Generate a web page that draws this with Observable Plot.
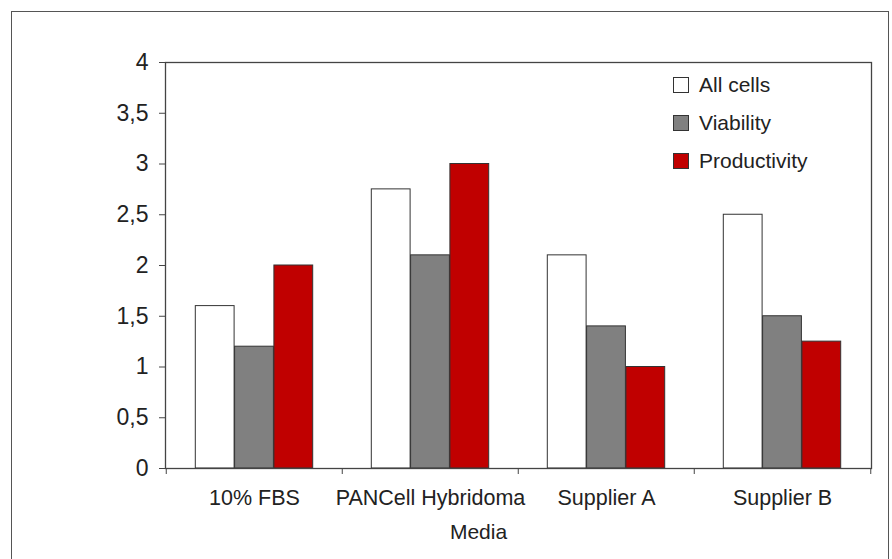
<!DOCTYPE html>
<html>
<head>
<meta charset="utf-8">
<script src="https://cdn.jsdelivr.net/npm/d3@7"></script>
<script src="https://cdn.jsdelivr.net/npm/@observablehq/plot@0.6"></script>
<style>
  html, body { margin: 0; padding: 0; background: #fff; overflow: hidden; }
  #wrap { position: relative; width: 892px; height: 559px; overflow: hidden; font-family: "Liberation Sans", Arial, sans-serif; }
  #border { position: absolute; left: 11px; top: 11px; width: 878px; height: 600px; border: 1.5px solid #555; box-sizing: border-box; }
  #chart { position: absolute; left: 0; top: 0; }
  #legend { position: absolute; left: 673px; top: 66px; font-size: 21px; color: #222; }
  .row { display: flex; align-items: center; height: 38px; }
  .sw { width: 14px; height: 14px; border: 1px solid #333; margin-right: 10px; box-sizing: content-box; }
</style>
</head>
<body>
<div id="wrap">
  <div id="border"></div>
  <div id="chart"></div>
  <div id="legend"></div>
</div>
<script>
const media = ["10% FBS", "PANCell Hybridoma", "Supplier A", "Supplier B"];
const series = ["All cells", "Viability", "Productivity"];
const allCells = [1.6, 2.75, 2.1, 2.5];
const viability = [1.2, 2.1, 1.4, 1.5];
const productivity = [2.0, 3.0, 1.0, 1.25];
const colors = ["#ffffff", "#808080", "#c00000"];
const yTicks = [0, 0.5, 1, 1.5, 2, 2.5, 3, 3.5, 4];
const xLabel = "Media";

const valuesBySeries = [allCells, viability, productivity];

const W = 892, H = 559;
const mL = 165, mR = 21, mT = 62, mB = 91;
const band = (W - mL - mR) / media.length;
const barW = 39.3;
const pad = (band - series.length * barW) / 2;

const data = [];
series.forEach((s, i) => media.forEach((m, j) => data.push({media: m, series: s, value: valuesBySeries[i][j]})));

const barMarks = series.map((s, i) => Plot.barY(data.filter(d => d.series === s), {
  x: "media", y: "value",
  fill: colors[i], stroke: "#333", strokeWidth: 1,
  insetLeft: pad + i * barW, insetRight: band - pad - (i + 1) * barW
}));

const fmt = d => String(d).replace(".", ",");

const plot = Plot.plot({
  width: W, height: H,
  marginLeft: mL, marginRight: mR, marginTop: mT, marginBottom: mB,
  style: {fontFamily: "'Liberation Sans', Arial, sans-serif", color: "#222", background: "transparent"},
  x: {domain: media, padding: 0},
  y: {domain: [0, 4]},
  marks: [
    ...barMarks,
    Plot.frame({stroke: "#444", strokeWidth: 1.3}),
    Plot.axisY({ticks: yTicks, tickFormat: fmt, tickSize: 6, tickPadding: 11, fontSize: 23, label: null, stroke: "#444"}),
    Plot.axisX({tickSize: 0, tickPadding: 21, fontSize: 21.5, label: null}),
    Plot.axisX({ticks: media, tickSize: 6, tickFormat: () => "", dx: -band / 2, label: null, stroke: "#444"}),
    Plot.axisX({ticks: [media[media.length - 1]], tickSize: 6, tickFormat: () => "", dx: band / 2, label: null, stroke: "#444"}),
    Plot.text([xLabel], {frameAnchor: "bottom", lineAnchor: "middle", dx: -40, dy: 64, fontSize: 21, text: d => d, fill: "#222"})
  ]
});
document.getElementById("chart").appendChild(plot);

const legend = document.getElementById("legend");
series.forEach((s, i) => {
  const row = document.createElement("div");
  row.className = "row";
  const sw = document.createElement("div");
  sw.className = "sw";
  sw.style.background = colors[i];
  const t = document.createElement("span");
  t.textContent = s;
  row.appendChild(sw); row.appendChild(t);
  legend.appendChild(row);
});
</script>
</body>
</html>
